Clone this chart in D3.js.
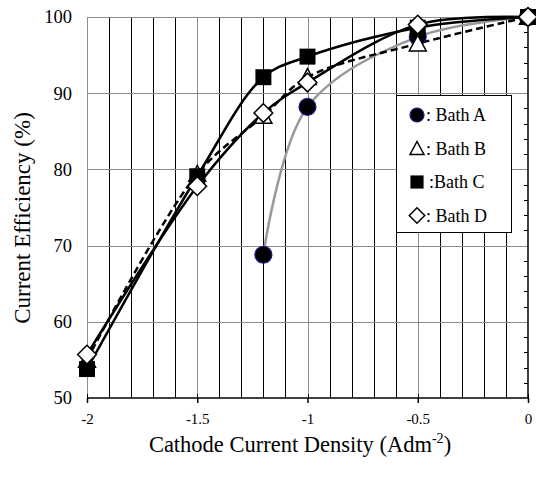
<!DOCTYPE html>
<html>
<head>
<meta charset="utf-8">
<script src="https://cdn.jsdelivr.net/npm/d3@7"></script>
<style>
  body { margin: 0; background: #fff; }
  svg { display: block; }
  svg text { font-family: "Liberation Serif", "Times New Roman", serif; }
</style>
</head>
<body>
<div id="chart"></div>
<script>
'use strict';

// x values (cathode current density, A/dm2)
var densityA = [-1.2, -1.0, -0.5, 0];
var efficiencyA = [68.8, 88.2, 97.4, 100];

var densityB = [-2.0, -1.5, -1.2, -1.0, -0.5, 0];
var efficiencyB = [55.0, 79.4, 87.0, 92.1, 96.5, 100];

var densityC = [-2.0, -1.5, -1.2, -1.0, -0.5, 0];
var efficiencyC = [53.8, 79.1, 92.1, 94.8, 98.6, 100];

var densityD = [-2.0, -1.5, -1.2, -1.0, -0.5, 0];
var efficiencyD = [55.7, 77.8, 87.4, 91.4, 99.0, 100];

var bathNames = ["Bath A", "Bath B", "Bath C", "Bath D"];
var xTickValues = [-2, -1.5, -1, -0.5, 0];
var xTickLabels = ["-2", "-1.5", "-1", "-0.5", "0"];
var yTickValues = [50, 60, 70, 80, 90, 100];

var FONT = "Liberation Serif, Times New Roman, serif";

var svgWidth = 536, svgHeight = 477,
    margin = { top: 17, right: 8, bottom: 79, left: 87 };
var width = svgWidth - margin.left - margin.right;
var height = svgHeight - margin.top - margin.bottom;

function zip(xs, ys) {
  return xs.map(function(d, i) { return { x: d, y: ys[i] }; });
}

var series = [
  { name: bathNames[0], data: zip(densityA, efficiencyA), marker: "circle", line: "#999999", dash: null },
  { name: bathNames[1], data: zip(densityB, efficiencyB), marker: "triangle", line: "#000", dash: "7,4" },
  { name: bathNames[2], data: zip(densityC, efficiencyC), marker: "square", line: "#000", dash: null },
  { name: bathNames[3], data: zip(densityD, efficiencyD), marker: "diamond", line: "#000", dash: null }
];

var svg = d3.select("#chart").append("svg")
  .attr("width", svgWidth)
  .attr("height", svgHeight)
  .attr("font-family", FONT);

var main = svg.append("g")
  .attr("transform", "translate(" + margin.left + "," + margin.top + ")");

var x = d3.scaleLinear().domain([-2, 0]).range([0, width]);
var y = d3.scaleLinear().domain([50, 100]).range([height, 0]);

function crisp(v) { return Math.round(v) + 0.5; }

// vertical grid lines every 0.1, the half units in gray
var xGrid = d3.range(-20, 1).map(function(i) { return i / 10; });
main.append("g").selectAll("line")
  .data(xGrid.filter(function(d) { return d > -2 && d < 0; }))
  .enter().append("line")
  .attr("x1", function(d) { return crisp(x(d)); })
  .attr("x2", function(d) { return crisp(x(d)); })
  .attr("y1", 0)
  .attr("y2", height)
  .attr("stroke", function(d) { return Math.abs(d * 2 - Math.round(d * 2)) < 1e-6 ? "#8c8c8c" : "#000"; })
  .attr("stroke-width", 1);

// horizontal grid lines
main.append("g").selectAll("line")
  .data(yTickValues.filter(function(d) { return d > 50; }))
  .enter().append("line")
  .attr("x1", 0)
  .attr("x2", width)
  .attr("y1", function(d) { return crisp(y(d)); })
  .attr("y2", function(d) { return crisp(y(d)); })
  .attr("stroke", "#8c8c8c")
  .attr("stroke-width", 1);

// left border in gray
main.append("line")
  .attr("x1", crisp(x(-2))).attr("x2", crisp(x(-2)))
  .attr("y1", 0).attr("y2", height)
  .attr("stroke", "#8c8c8c");

// bottom axis
var xAxis = d3.axisBottom(x)
  .tickValues(xTickValues)
  .tickFormat(function(d, i) { return xTickLabels[i]; })
  .tickSize(5)
  .tickPadding(10);
var xAxisG = main.append("g")
  .attr("transform", "translate(0," + height + ")")
  .call(xAxis)
  .attr("font-family", FONT);
xAxisG.select(".domain").remove();
xAxisG.selectAll("line").attr("stroke", "#000").attr("stroke-width", 1.5);
xAxisG.selectAll("text")
  .attr("font-family", FONT)
  .attr("font-size", 15)
  .attr("fill", "#000");
main.append("line")
  .attr("x1", 0).attr("x2", width)
  .attr("y1", height).attr("y2", height)
  .attr("stroke", "#000").attr("stroke-width", 1.5);

// minor ticks on bottom axis, pointing inside
main.append("g").selectAll("line")
  .data(xGrid)
  .enter().append("line")
  .attr("x1", function(d) { return crisp(x(d)); })
  .attr("x2", function(d) { return crisp(x(d)); })
  .attr("y1", height - 4)
  .attr("y2", height)
  .attr("stroke", "#000");

// y tick labels on the left
var yAxis = d3.axisLeft(y)
  .tickValues(yTickValues)
  .tickSize(0)
  .tickPadding(15);
var yAxisG = main.append("g").call(yAxis).attr("font-family", FONT);
yAxisG.select(".domain").remove();
yAxisG.selectAll("text")
  .attr("font-family", FONT)
  .attr("font-size", 18.5)
  .attr("fill", "#000");

// right axis line with minor ticks
main.append("line")
  .attr("x1", width).attr("x2", width)
  .attr("y1", 0).attr("y2", height)
  .attr("stroke", "#000").attr("stroke-width", 1.5);
main.append("g").selectAll("line")
  .data(d3.range(52, 100, 2).filter(function(d) { return d % 10 != 0; }))
  .enter().append("line")
  .attr("x1", width - 4).attr("x2", width)
  .attr("y1", function(d) { return crisp(y(d)); })
  .attr("y2", function(d) { return crisp(y(d)); })
  .attr("stroke", "#000");

// top border
main.append("line")
  .attr("x1", 0).attr("x2", width)
  .attr("y1", 0.5).attr("y2", 0.5)
  .attr("stroke", "#8c8c8c");

// axis titles
var xTitle = svg.append("text")
  .attr("x", 300)
  .attr("y", 452)
  .attr("text-anchor", "middle")
  .attr("font-family", FONT)
  .attr("font-size", 22.5)
  .attr("fill", "#000");
xTitle.append("tspan").text("Cathode Current Density (Adm");
xTitle.append("tspan").attr("font-size", 14).attr("dy", -9).text("-2");
xTitle.append("tspan").attr("dy", 9).text(")");

svg.append("text")
  .attr("transform", "rotate(-90)")
  .attr("x", -218)
  .attr("y", 30)
  .attr("text-anchor", "middle")
  .attr("font-family", FONT)
  .attr("font-size", 23)
  .attr("fill", "#000")
  .text("Current Efficiency (%)");

// lines
var line = d3.line()
  .x(function(d) { return x(d.x); })
  .y(function(d) { return y(d.y); })
  .curve(d3.curveCatmullRom.alpha(0.5));

main.append("g").selectAll("path")
  .data(series)
  .enter().append("path")
  .attr("fill", "none")
  .attr("stroke", function(s) { return s.line; })
  .attr("stroke-width", 2.5)
  .attr("stroke-dasharray", function(s) { return s.dash; })
  .attr("d", function(s) { return line(s.data); });

// marker drawing
function drawMarker(g, type, cx, cy, size) {
  if (type == "circle") {
    g.append("circle")
      .attr("cx", cx).attr("cy", cy).attr("r", size * 0.5)
      .attr("fill", "#000").attr("stroke", "#1a1a8c").attr("stroke-width", 1.2);
  } else if (type == "square") {
    g.append("rect")
      .attr("x", cx - size * 0.47).attr("y", cy - size * 0.47)
      .attr("width", size * 0.94).attr("height", size * 0.94)
      .attr("fill", "#000");
  } else if (type == "diamond") {
    var h = size * 0.55;
    g.append("path")
      .attr("d", "M" + cx + "," + (cy - h) + "L" + (cx + h) + "," + cy +
        "L" + cx + "," + (cy + h) + "L" + (cx - h) + "," + cy + "Z")
      .attr("fill", "#fff").attr("stroke", "#000").attr("stroke-width", 1.5);
  } else if (type == "triangle") {
    var w = size * 0.5, t = size * 0.5;
    g.append("path")
      .attr("d", "M" + cx + "," + (cy - t) + "L" + (cx + w) + "," + (cy + t * 0.85) +
        "L" + (cx - w) + "," + (cy + t * 0.85) + "Z")
      .attr("fill", "#fff").attr("stroke", "#000").attr("stroke-width", 1.5);
  }
}

var markers = main.append("g");
series.forEach(function(s) {
  s.data.forEach(function(d) {
    drawMarker(markers, s.marker, x(d.x), y(d.y), 17);
  });
});

// legend
var legend = svg.append("g").attr("transform", "translate(396,95)");
legend.append("rect")
  .attr("x", 0.5).attr("y", 0.5)
  .attr("width", 115).attr("height", 137)
  .attr("fill", "#fff").attr("stroke", "#000").attr("stroke-width", 1);

series.forEach(function(s, i) {
  var cy = 20 + i * 33.5;
  drawMarker(legend, s.marker, 21, cy, 14);
  legend.append("text")
    .attr("x", s.marker == "square" ? 33 : 30)
    .attr("y", cy + 6)
    .attr("font-family", FONT)
    .attr("font-size", 18)
    .attr("fill", "#000")
    .text(s.marker == "square" ? ":" + s.name : ": " + s.name);
});
</script>
</body>
</html>
